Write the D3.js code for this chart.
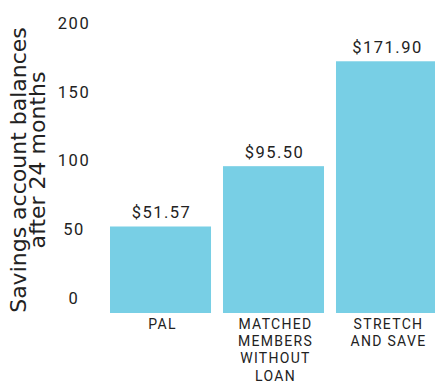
<!DOCTYPE html>
<html>
<head>
<meta charset="utf-8">
<script src="https://cdn.jsdelivr.net/npm/d3@7"></script>
<style>
  html, body { margin: 0; padding: 0; background: #fff; }
  svg { display: block; }
</style>
</head>
<body>
<svg id="chart" width="435" height="385"></svg>
<script>
// Savings balances after 24 months, by program
const categories = ["PAL", "MATCHED MEMBERS WITHOUT LOAN", "STRETCH AND SAVE"];
const balances = [51.57, 95.50, 171.90];
const valueLabels = ["$51.57", "$95.50", "$171.90"];
const yTicks = [0, 50, 100, 150, 200];
const yTitleLines = ["Savings account balances", "after 24 months"];

const svg = d3.select("#chart");
const barColor = "#78cfe5";
const textColor = "#222";

const plotBottom = 313;   // bars rest on the bottom edge of the plot area

const y = d3.scaleLinear().domain([0, 200]).range([297.3, 22.7]);

const x = d3.scaleBand()
  .domain(categories)
  .range([110, 437])
  .paddingInner(0.106)
  .paddingOuter(0);

// y axis: labels only, no domain line or tick marks
const yAxis = svg.append("g")
  .attr("transform", "translate(74,0)")
  .call(d3.axisLeft(y).tickValues(yTicks).tickSize(0).tickPadding(0).tickFormat(d3.format("d")));
yAxis.select(".domain").remove();
yAxis.selectAll("text")
  .attr("x", 0)
  .attr("text-anchor", "middle")
  .attr("dy", "0.36em")
  .style("font-family", "Roboto, sans-serif")
  .style("font-size", "16.5px")
  .style("letter-spacing", "1.5px")
  .attr("fill", textColor);

// bars
svg.append("g").selectAll("rect")
  .data(balances)
  .join("rect")
  .attr("x", (d, i) => x(categories[i]))
  .attr("width", x.bandwidth())
  .attr("y", d => y(d))
  .attr("height", d => plotBottom - y(d))
  .attr("fill", barColor);

// value labels above bars
svg.append("g").selectAll("text")
  .data(balances)
  .join("text")
  .attr("x", (d, i) => x(categories[i]) + x.bandwidth() / 2 + 1)
  .attr("y", d => y(d) - 8)
  .attr("text-anchor", "middle")
  .style("font-family", "Roboto, sans-serif")
  .style("font-size", "16.5px")
  .style("letter-spacing", "1.5px")
  .attr("fill", textColor)
  .text((d, i) => valueLabels[i]);

// category labels, wrapped to the band width
const catG = svg.append("g").selectAll("text")
  .data(categories)
  .join("text")
  .attr("text-anchor", "middle")
  .style("font-family", "Roboto, sans-serif")
  .style("font-size", "14px")
  .style("letter-spacing", "1.3px")
  .attr("fill", textColor);

catG.each(function (cat) {
  const t = d3.select(this);
  const cx = x(cat) + x.bandwidth() / 2 + 2;
  const words = cat.split(" ");
  const lines = [];
  let line = [];
  const probe = t.append("tspan");
  words.forEach(w => {
    const trial = line.concat(w).join(" ");
    probe.text(trial);
    if (line.length && probe.node().getComputedTextLength() > x.bandwidth()) {
      lines.push(line.join(" "));
      line = [w];
    } else {
      line.push(w);
    }
  });
  lines.push(line.join(" "));
  probe.remove();
  lines.forEach((l, i) => {
    t.append("tspan")
      .attr("x", cx)
      .attr("y", plotBottom + 15.5 + i * 17.4)
      .text(l);
  });
});

// y axis title, two rotated lines
const titleX = [26, 45];
const titleY = [170, 160];
svg.append("g").selectAll("text")
  .data(yTitleLines)
  .join("text")
  .attr("transform", (d, i) => `translate(${titleX[i]},${titleY[i]}) rotate(-90)`)
  .attr("text-anchor", "middle")
  .style("font-family", "'DejaVu Sans', sans-serif")
  .style("font-size", "22px")
  .attr("fill", textColor)
  .text(d => d);
</script>
</body>
</html>
